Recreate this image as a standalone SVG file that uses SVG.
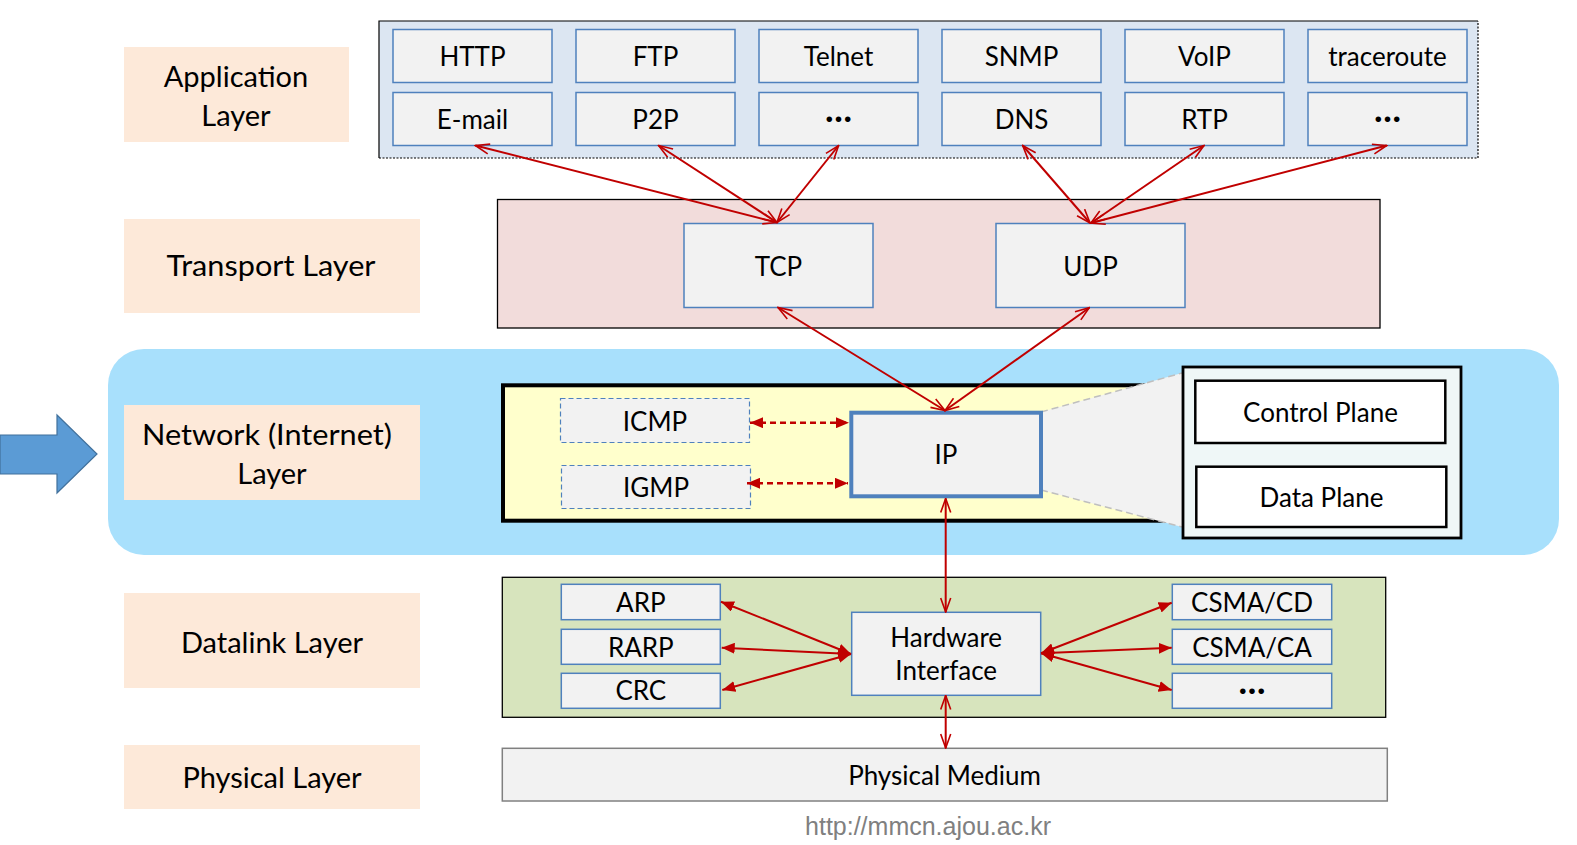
<svg xmlns="http://www.w3.org/2000/svg" width="1577" height="845" viewBox="0 0 1577 845">
<style>
text{font-family:Lato,"Open Sans","Liberation Sans",sans-serif;fill:#000;text-anchor:middle}
.lbl{font-size:29px}
.t{font-size:26px}
.lab{fill:#FDE9D9}
.box{fill:#F2F2F2;stroke:#4F81BD;stroke-width:1.5}
.dbox{fill:#F2F2F2;stroke:#4F81BD;stroke-width:1.2;stroke-dasharray:5 3}
.bl{fill:#fff;stroke:#000;stroke-width:2.5}
.ln{fill:none;stroke:#C00000;stroke-width:2}
.dl{fill:none;stroke:#C00000;stroke-width:2.5;stroke-dasharray:6 4}
.dots{font-weight:900;font-size:34px}
</style>
<defs>
<marker id="oa" viewBox="0 0 16 12" refX="15" refY="6" markerWidth="16" markerHeight="12" markerUnits="userSpaceOnUse" orient="auto-start-reverse">
<path d="M1,1 L15,6 L1,11" fill="none" stroke="#C00000" stroke-width="1.6"/>
</marker>
<marker id="fa" viewBox="0 0 13 11" refX="13" refY="5.5" markerWidth="13" markerHeight="11" markerUnits="userSpaceOnUse" orient="auto-start-reverse">
<path d="M0,0 L13,5.5 L0,11 z" fill="#C00000"/>
</marker>
</defs>

<!-- left side labels -->
<g id="label-application"><rect class="lab" x="124" y="47" width="225" height="95"/><text class="lbl" x="236" y="87">Application</text><text class="lbl" x="236" y="126">Layer</text></g>
<g id="label-transport"><rect class="lab" x="124" y="219" width="296" height="94"/><text class="lbl" x="271" y="276" textLength="209" lengthAdjust="spacingAndGlyphs">Transport Layer</text></g>

<!-- network band -->
<g id="network-band"><rect x="108" y="349" width="1451" height="206" rx="36" fill="#A8E0FC"/></g>
<g id="side-arrow"><path d="M0,435 L57,435 L57,415 L97,454 L57,493 L57,474 L0,474 z" fill="#5B9BD5" stroke="#41719C" stroke-width="1.2"/></g>
<g id="label-network"><rect class="lab" x="124" y="405" width="296" height="95"/><text class="lbl" x="267" y="445" textLength="250" lengthAdjust="spacingAndGlyphs">Network (Internet)</text><text class="lbl" x="272" y="484">Layer</text></g>
<g id="label-datalink"><rect class="lab" x="124" y="593" width="296" height="95"/><text class="lbl" x="272" y="653">Datalink Layer</text></g>
<g id="label-physical"><rect class="lab" x="124" y="745" width="296" height="64"/><text class="lbl" x="272" y="788">Physical Layer</text></g>

<!-- application layer -->
<g id="application-layer">
<rect x="379" y="21" width="1099" height="137" fill="#DCE6F2"/>
<path d="M379,158 L379,21 L1478,21" fill="none" stroke="#000" stroke-width="1.2"/>
<path d="M379,158 L1478,158 L1478,21" fill="none" stroke="#000" stroke-width="1.2" stroke-dasharray="2 1.5"/>
</g>
<g id="http"><rect class="box" x="393" y="29.5" width="159" height="53"/><text class="t" x="472.5" y="66">HTTP</text></g>
<g id="ftp"><rect class="box" x="576" y="29.5" width="159" height="53"/><text class="t" x="655.5" y="66">FTP</text></g>
<g id="telnet"><rect class="box" x="759" y="29.5" width="159" height="53"/><text class="t" x="838.5" y="66">Telnet</text></g>
<g id="snmp"><rect class="box" x="942" y="29.5" width="159" height="53"/><text class="t" x="1021.5" y="66">SNMP</text></g>
<g id="voip"><rect class="box" x="1125" y="29.5" width="159" height="53"/><text class="t" x="1204.5" y="66">VoIP</text></g>
<g id="traceroute"><rect class="box" x="1308" y="29.5" width="159" height="53"/><text class="t" x="1387.5" y="66">traceroute</text></g>
<g id="email"><rect class="box" x="393" y="92.5" width="159" height="53"/><text class="t" x="472.5" y="129">E-mail</text></g>
<g id="p2p"><rect class="box" x="576" y="92.5" width="159" height="53"/><text class="t" x="655.5" y="129">P2P</text></g>
<g id="app-more1"><rect class="box" x="759" y="92.5" width="159" height="53"/><text class="dots" x="838.5" y="121.5">…</text></g>
<g id="dns"><rect class="box" x="942" y="92.5" width="159" height="53"/><text class="t" x="1021.5" y="129">DNS</text></g>
<g id="rtp"><rect class="box" x="1125" y="92.5" width="159" height="53"/><text class="t" x="1204.5" y="129">RTP</text></g>
<g id="app-more2"><rect class="box" x="1308" y="92.5" width="159" height="53"/><text class="dots" x="1387.5" y="121.5">…</text></g>

<!-- transport layer -->
<g id="transport-layer"><rect x="497.5" y="199.5" width="882.5" height="128.5" fill="#F2DCDB" stroke="#000" stroke-width="1.3"/></g>
<g id="tcp"><rect class="box" x="684" y="223.5" width="189" height="84"/><text class="t" x="778.5" y="276">TCP</text></g>
<g id="udp"><rect class="box" x="996" y="223.5" width="189" height="84"/><text class="t" x="1090.5" y="276">UDP</text></g>

<!-- network layer -->
<g id="network-layer"><rect x="503" y="385.3" width="690" height="135.4" fill="#FFFFCC" stroke="#000" stroke-width="4"/></g>
<g id="icmp"><rect class="dbox" x="560.5" y="398.5" width="189" height="44"/><text class="t" x="655" y="431">ICMP</text></g>
<g id="igmp"><rect class="dbox" x="561.5" y="465.5" width="189" height="43"/><text class="t" x="656" y="497">IGMP</text></g>
<g id="zoom-callout">
<polygon points="1041,412 1182,373 1182,527 1041,490" fill="#F2F2F2"/>
<path d="M1041,412 L1182,373 M1041,490 L1182,527" stroke="#BFBFBF" stroke-width="1.5" stroke-dasharray="7 4" fill="none"/>
</g>
<g id="ip"><rect x="851.3" y="412.7" width="189.7" height="83.6" fill="#F2F2F2" stroke="#4F81BD" stroke-width="4"/><text class="t" x="946" y="464">IP</text></g>
<g id="plane-box"><rect x="1183" y="367" width="278" height="171" fill="#EFF7F7" stroke="#000" stroke-width="2.8"/></g>
<g id="control-plane"><rect class="bl" x="1195.3" y="380.7" width="250" height="62.3"/><text class="t" x="1320.5" y="422">Control Plane</text></g>
<g id="data-plane"><rect class="bl" x="1196.3" y="466.7" width="250" height="60.3"/><text class="t" x="1321.5" y="507">Data Plane</text></g>

<!-- datalink layer -->
<g id="datalink-layer"><rect x="502.3" y="577.3" width="883.4" height="140" fill="#D7E4BD" stroke="#000" stroke-width="1.3"/></g>
<g id="arp"><rect class="box" x="561.3" y="584.3" width="159" height="35.4"/><text class="t" x="640.8" y="612">ARP</text></g>
<g id="rarp"><rect class="box" x="561.3" y="629.3" width="159" height="35"/><text class="t" x="640.8" y="657">RARP</text></g>
<g id="crc"><rect class="box" x="561.3" y="673.3" width="159" height="35"/><text class="t" x="640.8" y="700">CRC</text></g>
<g id="hardware-interface"><rect class="box" x="851.7" y="612.3" width="189" height="83"/><text class="t" x="946.2" y="647">Hardware</text><text class="t" x="946.2" y="680">Interface</text></g>
<g id="csma-cd"><rect class="box" x="1172.3" y="584.3" width="159.4" height="35.4"/><text class="t" x="1252" y="612">CSMA/CD</text></g>
<g id="csma-ca"><rect class="box" x="1172.3" y="629.3" width="159.4" height="35"/><text class="t" x="1252" y="657">CSMA/CA</text></g>
<g id="dl-more"><rect class="box" x="1172.3" y="673.3" width="159.4" height="35"/><text class="dots" x="1252" y="693.5">…</text></g>

<!-- physical layer -->
<g id="physical-medium"><rect x="502.3" y="748.3" width="885" height="52.7" fill="#F2F2F2" stroke="#808080" stroke-width="1.5"/><text class="t" x="944.5" y="785">Physical Medium</text></g>

<g id="footer"><text x="928" y="835" style="font-family:'Liberation Sans',Arial,sans-serif;font-size:25px;fill:#808080">http://mmcn.ajou.ac.kr</text></g>

<!-- connectors -->
<g id="connectors">
<line class="ln" x1="475.4" y1="145.5" x2="777" y2="222.5" marker-start="url(#oa)" marker-end="url(#oa)"/>
<line class="ln" x1="658.6" y1="145.5" x2="777" y2="222.5" marker-start="url(#oa)" marker-end="url(#oa)"/>
<line class="ln" x1="838.6" y1="145.5" x2="777" y2="222.5" marker-start="url(#oa)" marker-end="url(#oa)"/>
<line class="ln" x1="1022.7" y1="145.5" x2="1090" y2="223" marker-start="url(#oa)" marker-end="url(#oa)"/>
<line class="ln" x1="1204" y1="145.5" x2="1091" y2="223" marker-start="url(#oa)" marker-end="url(#oa)"/>
<line class="ln" x1="1386.7" y1="145.5" x2="1091" y2="223" marker-start="url(#oa)" marker-end="url(#oa)"/>
<line class="ln" x1="778" y1="307.5" x2="945" y2="410.5" marker-start="url(#oa)" marker-end="url(#oa)"/>
<line class="ln" x1="1089.3" y1="307.7" x2="945" y2="410.5" marker-start="url(#oa)" marker-end="url(#oa)"/>
<line class="ln" x1="945.7" y1="498.5" x2="945.7" y2="612" marker-start="url(#oa)" marker-end="url(#oa)"/>
<line class="ln" x1="945.7" y1="695.5" x2="945.7" y2="748" marker-start="url(#oa)" marker-end="url(#oa)"/>
<line class="dl" x1="750" y1="422.7" x2="849" y2="422.7" marker-start="url(#fa)" marker-end="url(#fa)"/>
<line class="dl" x1="747" y1="483.3" x2="848" y2="483.3" marker-start="url(#fa)" marker-end="url(#fa)"/>
<line class="ln" x1="851" y1="654" x2="721" y2="601.7" marker-start="url(#fa)" marker-end="url(#fa)"/>
<line class="ln" x1="851" y1="654" x2="721.7" y2="647.7" marker-start="url(#fa)" marker-end="url(#fa)"/>
<line class="ln" x1="851" y1="654" x2="722.3" y2="690" marker-start="url(#fa)" marker-end="url(#fa)"/>
<line class="ln" x1="1041" y1="653.3" x2="1171.7" y2="602.7" marker-start="url(#fa)" marker-end="url(#fa)"/>
<line class="ln" x1="1041" y1="653.3" x2="1171.7" y2="647.7" marker-start="url(#fa)" marker-end="url(#fa)"/>
<line class="ln" x1="1041" y1="653.3" x2="1171.7" y2="690" marker-start="url(#fa)" marker-end="url(#fa)"/>
</g>
</svg>
